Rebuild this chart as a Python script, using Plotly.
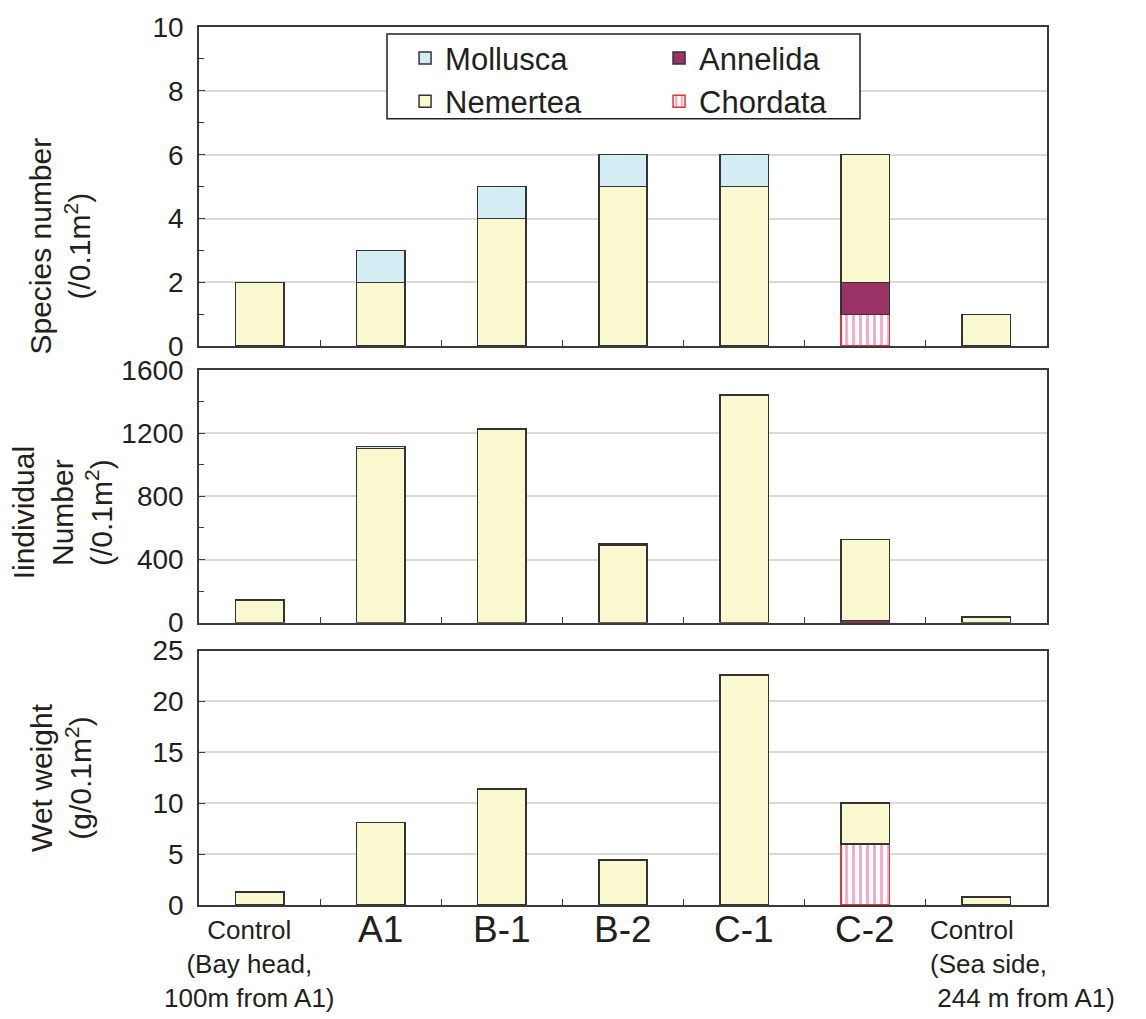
import plotly.graph_objects as go

# Sampling sites (category keys) and the labels printed under the bottom panel
sites = ["Control-bay", "A1", "B-1", "B-2", "C-1", "C-2", "Control-sea"]
site_labels = [
    "Control<br>(Bay head,<br>100m from A1)",
    "A1", "B-1", "B-2", "C-1", "C-2",
    "Control<br>(Sea side,<br>\u00a0244 m from A1)",
]

# Species number (/0.1 m2)
species_chordata = [None, None, None, None, None, 1, None]
species_annelida = [None, None, None, None, None, 1, None]
species_nemertea = [2, 2, 4, 5, 5, 4, 1]
species_mollusca = [None, 1, 1, 1, 1, None, None]

# Individual number (/0.1 m2)
indiv_chordata = [None, None, None, None, None, 1, None]
indiv_annelida = [None, None, None, None, None, 12, None]
indiv_nemertea = [145, 1105, 1228, 492, 1440, 515, 35]
indiv_mollusca = [None, 12, 3, 8, 3, None, None]

# Wet weight (g/0.1 m2)
weight_chordata = [None, None, None, None, None, 6.0, None]
weight_nemertea = [1.3, 8.1, 11.4, 4.4, 22.6, 4.0, 0.8]

FONT = "Liberation Sans, Arial, Helvetica, sans-serif"
INK = "#231f20"
EDGE = "#333333"

styles = {
    "Mollusca": dict(marker=dict(color="#d4edf4", line=dict(color=EDGE, width=1.5)),
                     legend="legend", legendrank=1),
    "Nemertea": dict(marker=dict(color="#faf8cf", line=dict(color=EDGE, width=1.5)),
                     legend="legend", legendrank=2),
    "Annelida": dict(marker=dict(color="#9b3366", line=dict(color=EDGE, width=1.5)),
                     legend="legend2", legendrank=1),
    "Chordata": dict(marker=dict(color="white", line=dict(color="#e8303a", width=1.5),
                                 pattern=dict(shape="|", fgcolor="#ef4f86", bgcolor="white",
                                              size=7, solidity=0.4, fillmode="overlay")),
                     legend="legend2", legendrank=2),
}

panels = [
    ("x", "y", True, [("Chordata", species_chordata), ("Annelida", species_annelida),
                      ("Nemertea", species_nemertea), ("Mollusca", species_mollusca)]),
    ("x2", "y2", False, [("Chordata", indiv_chordata), ("Annelida", indiv_annelida),
                         ("Nemertea", indiv_nemertea), ("Mollusca", indiv_mollusca)]),
    ("x3", "y3", False, [("Chordata", weight_chordata), ("Nemertea", weight_nemertea)]),
]

fig = go.Figure()
for xa, ya, show, series in panels:
    for name, vals in series:
        st = styles[name]
        fig.add_trace(go.Bar(
            x=sites, y=vals, name=name, xaxis=xa, yaxis=ya, width=0.4,
            marker=st["marker"], showlegend=show, legend=st["legend"],
            legendrank=st["legendrank"], hoverinfo="x+y+name",
        ))

axis_line = dict(showline=True, linecolor="#3a3a3a", linewidth=1.5, mirror=True)

xcommon = dict(type="category", categoryorder="array", categoryarray=sites,
               range=[-0.5, 6.5], showticklabels=False, ticks="inside", ticklen=6,
               tickwidth=1.2, tickcolor="#3a3a3a", tickson="boundaries",
               showgrid=False, zeroline=False, **axis_line)

ycommon = dict(ticks="inside", ticklen=6, tickwidth=1.2, tickcolor="#3a3a3a",
               showgrid=True, gridcolor="#d9d9d9", gridwidth=1.5, zeroline=False,
               tickfont=dict(family=FONT, size=28, color=INK), ticklabelstandoff=8,
               **axis_line)

legend_font = dict(family=FONT, size=31, color=INK)

fig.update_layout(
    width=1146, height=1019,
    margin=dict(l=199, r=99, t=25, b=114),
    paper_bgcolor="white", plot_bgcolor="white",
    barmode="stack", bargap=0.6,
    font=dict(family=FONT, color=INK),
    xaxis=dict(anchor="y", domain=[0, 1], **xcommon),
    xaxis2=dict(anchor="y2", domain=[0, 1], **xcommon),
    xaxis3=dict(anchor="y3", domain=[0, 1], **xcommon),
    yaxis=dict(anchor="x", domain=[0.6364, 1.0], range=[0, 10], dtick=2,
               minor=dict(dtick=1, ticks="inside", ticklen=5, tickcolor="#3a3a3a",
                          showgrid=False), **ycommon),
    yaxis2=dict(anchor="x2", domain=[0.3216, 0.6091], range=[0, 1600], dtick=400,
                minor=dict(dtick=200, ticks="inside", ticklen=5, tickcolor="#3a3a3a",
                           showgrid=False), **ycommon),
    yaxis3=dict(anchor="x3", domain=[0.0, 0.2898], range=[0, 25], dtick=5, **ycommon),
    legend=dict(x=0.243, y=0.995, xanchor="left", yanchor="top", font=legend_font,
                bgcolor="rgba(0,0,0,0)", borderwidth=0, traceorder="normal"),
    legend2=dict(x=0.5425, y=0.995, xanchor="left", yanchor="top", font=legend_font,
                 bgcolor="rgba(0,0,0,0)", borderwidth=0, traceorder="normal"),
    hovermode="closest",
)

# Frame around the two legend columns
fig.add_shape(type="rect", xref="paper", yref="paper",
              x0=0.2217, x1=0.7795, y0=0.8955, y1=0.992,
              line=dict(color=INK, width=1.5), fillcolor="white", layer="above")

# Y-axis titles
ytitles = [
    ("Species number<br>(/0.1m<sup>2</sup>)", -0.164, 0.751),
    ("Iindividual<br>Number<br>(/0.1m<sup>2</sup>)", -0.161, 0.4466),
    ("Wet weight<br>(g/0.1m<sup>2</sup>)", -0.162, 0.1455),
]
for text, x, y in ytitles:
    fig.add_annotation(text=text, xref="paper", yref="paper", x=x, y=y,
                       xanchor="center", yanchor="middle", textangle=-90,
                       showarrow=False, align="center",
                       font=dict(family=FONT, size=30, color=INK))

# Site labels under the bottom panel
for i, (site, label) in enumerate(zip(sites, site_labels)):
    if i == 0:
        fig.add_annotation(text=label, x=site, xref="x3", y=0, yref="y3 domain",
                           xanchor="center", yanchor="top", xshift=-10, yshift=-8,
                           align="center", showarrow=False,
                           font=dict(family=FONT, size=26, color=INK))
    elif i == len(sites) - 1:
        fig.add_annotation(text=label, x=site, xref="x3", y=0, yref="y3 domain",
                           xanchor="left", yanchor="top", xshift=-58, yshift=-8,
                           align="left", showarrow=False,
                           font=dict(family=FONT, size=26, color=INK))
    else:
        fig.add_annotation(text=label, x=site, xref="x3", y=0, yref="y3 domain",
                           xanchor="center", yanchor="top", yshift=-2,
                           showarrow=False,
                           font=dict(family=FONT, size=37, color=INK))

fig.write_html("out.html")
